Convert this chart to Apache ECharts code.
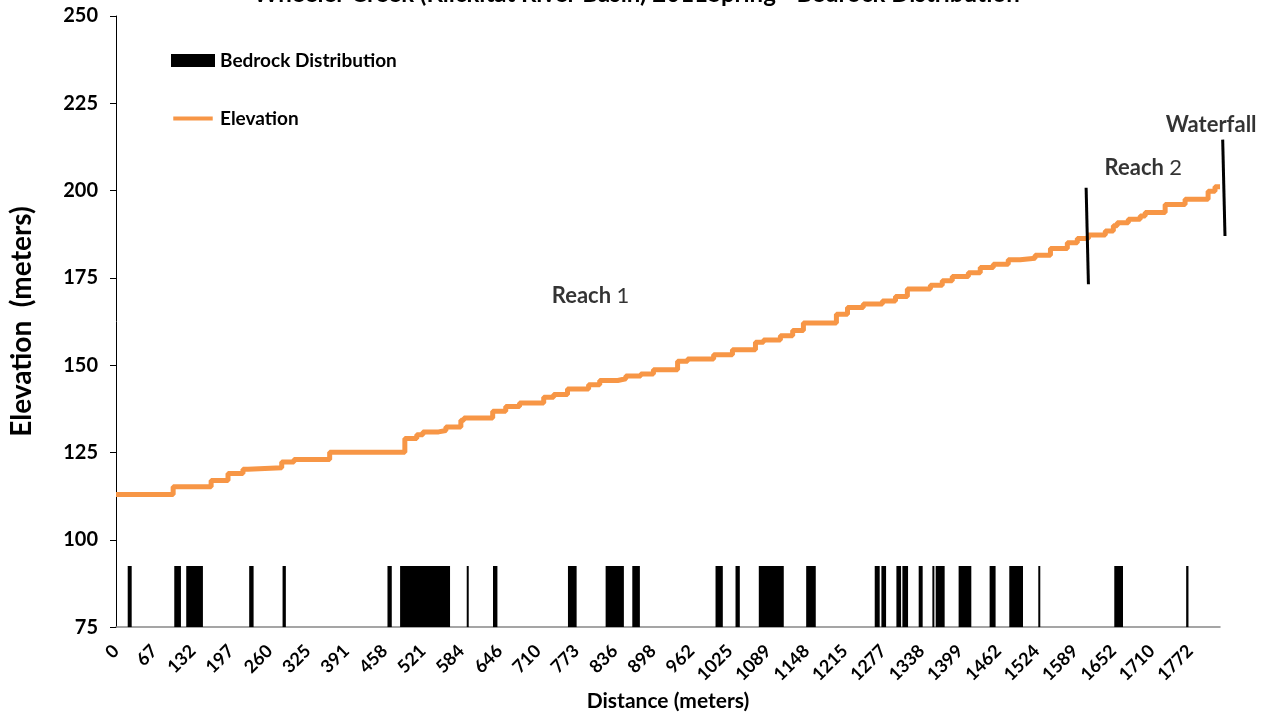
<!DOCTYPE html>
<html>
<head>
<meta charset="utf-8">
<script src="https://cdn.jsdelivr.net/npm/echarts@6/dist/echarts.min.js"></script>
<style>
html,body{margin:0;padding:0;background:#fff;}
#chart{width:1273px;height:717px;}
</style>
</head>
<body>
<div id="chart"></div>
<script>
// x positions are in "tick-label slots" (label i sits at x = i)
const tickLabels = ['0','67','132','197','260','325','391','458','521','584','646','710','773','836','898','962','1025','1089','1148','1215','1277','1338','1399','1462','1524','1589','1652','1710','1772'];

// Elevation step profile: start position of each step and its elevation (m)
const elevX = [0,1.49,2.48,2.92,3.31,3.44,4.32,4.64,5.57,7.53,7.84,8.00,8.41,8.60,8.99,9.07,9.82,10.16,10.52,11.15,11.41,11.77,12.32,12.61,13.08,13.29,13.68,14.01,14.64,14.90,15.58,16.07,16.67,16.88,17.32,17.64,17.92,18.78,19.07,19.48,19.98,20.32,20.63,21.23,21.54,21.80,22.22,22.53,22.87,23.26,23.57,23.96,24.36,24.80,25.06,25.35,25.79,26.00,26.10,26.39,26.70,26.83,27.35,27.87,28.47,28.65,28.78];
const elevY = [113.0,115.2,117.0,119.0,120.2,120.6,122.3,123.0,125.1,129.0,130.1,130.9,131.3,132.3,134.2,134.9,136.8,138.2,139.2,140.8,141.6,143.2,144.4,145.6,146.1,146.9,147.5,148.7,151.1,151.8,153.0,154.4,156.6,157.2,158.4,159.9,162.1,164.6,166.5,167.5,168.4,169.7,171.8,172.9,174.2,175.4,176.5,178.0,178.9,180.2,180.6,181.5,183.4,185.1,186.3,187.3,188.4,189.9,190.8,191.8,192.7,193.7,196.0,197.5,199.8,201.1,201.1];

// Bedrock stretches: start, end (slots), bar top (m)
const bedStart = [0.305,1.519,1.831,3.472,4.342,7.077,7.406,9.143,9.828,11.782,12.764,13.459,15.629,16.150,16.757,17.992,19.779,19.953,20.344,20.500,20.925,21.282,21.368,21.966,22.774,23.287,24.043,26.024,27.898];
const bedEnd   = [0.409,1.693,2.266,3.587,4.428,7.189,8.708,9.195,9.943,12.008,13.240,13.657,15.819,16.262,17.408,18.242,19.909,20.075,20.466,20.648,21.029,21.326,21.602,22.297,22.930,23.644,24.095,26.251,27.958];
const bedTop = 92.5;

// Reach boundary markers: x1, y1, x2, y2
const markerLines = [[25.29,200.8,25.35,173.2],[28.85,214.6,28.91,187.0]];

// Annotation labels [x, y, text key]
const notes = [[12.37,169.8,'r1'],[26.78,206.6,'r2'],[28.55,218.9,'wf']];

const FONT = 'Lato';
const chart = echarts.init(document.getElementById('chart'));

const elevData = elevX.map((x,i)=>[x, elevY[i]]);
const bedData = bedStart.map((s,i)=>[s, bedEnd[i], bedTop]);

chart.setOption({
  animation:false,
  backgroundColor:'#fff',
  textStyle:{fontFamily:FONT},
  graphic:[{
    type:'text', left:'center', top:-18,
    style:{text:'Wheeler Creek (Klickitat River Basin) 2011Spring - Bedrock Distribution', font:'bold 24px '+FONT, fill:'#000'}
  }],
  grid:{left:115, right:53, top:16, bottom:88},
  legend:{
    orient:'vertical', left:166, top:46, itemWidth:44, itemHeight:13, itemGap:39, padding:5,
    textStyle:{fontFamily:FONT, fontWeight:'bold', fontSize:19, color:'#000'},
    data:[
      {name:'Bedrock Distribution', icon:'rect', itemStyle:{color:'#000'}},
      {name:'Elevation', icon:'path://M0,0 M0,5 L44,5 L44,9.5 L0,9.5 Z M44,14.5', itemStyle:{color:'#F79646'}}
    ]
  },
  xAxis:{
    type:'value', min:0, max:28.78, interval:1,
    name:'Distance (meters)', nameLocation:'middle', nameGap:61,
    nameTextStyle:{fontFamily:FONT, fontWeight:'bold', fontSize:21, color:'#000'},
    axisLine:{show:true, onZero:false, lineStyle:{color:'#888', width:1.5}},
    axisTick:{show:false},
    splitLine:{show:false},
    axisLabel:{
      rotate:45, margin:21, showMaxLabel:false,
      fontFamily:FONT, fontWeight:'bold', fontSize:18, color:'#000',
      formatter:function(v){ return Number.isInteger(v) && tickLabels[v]!==undefined ? tickLabels[v] : ''; }
    }
  },
  yAxis:{
    type:'value', min:75, max:250, interval:25,
    name:'Elevation  (meters)', nameLocation:'middle', nameGap:80,
    nameTextStyle:{fontFamily:FONT, fontWeight:'bold', fontSize:28, color:'#000'},
    axisLine:{show:true, lineStyle:{color:'#000', width:1}},
    axisTick:{show:true, inside:false, length:6, lineStyle:{color:'#000'}},
    splitLine:{show:false},
    axisLabel:{margin:18, fontFamily:FONT, fontWeight:'bold', fontSize:20, color:'#000'}
  },
  series:[
    {
      name:'Bedrock Distribution', type:'custom',
      encode:{x:[0,1], y:2},
      data:bedData,
      renderItem:function(params, api){
        const p0 = api.coord([api.value(0), api.value(2)]);
        const p1 = api.coord([api.value(1), 75]);
        const w = Math.max(p1[0]-p0[0], 2);
        return {type:'rect', shape:{x:p0[0], y:p0[1], width:w, height:p1[1]-p0[1]}, style:{fill:'#000'}};
      },
      z:2
    },
    {
      name:'Elevation', type:'line', step:'end', data:elevData,
      symbol:'none', lineStyle:{color:'#F79646', width:5}, itemStyle:{color:'#F79646'}, z:3
    },
    {
      name:'markers', type:'custom', clip:false, z:4,
      encode:{x:[0,2], y:[1,3]},
      data:markerLines,
      renderItem:function(params, api){
        const a = api.coord([api.value(0), api.value(1)]);
        const b = api.coord([api.value(2), api.value(3)]);
        return {type:'line', shape:{x1:a[0], y1:a[1], x2:b[0], y2:b[1]}, style:{stroke:'#000', lineWidth:3}};
      }
    },
    {
      name:'notes', type:'scatter', data:notes.map(n=>({value:[n[0],n[1]], key:n[2]})),
      symbolSize:0, clip:false, z:5,
      label:{
        show:true, position:'inside', color:'#000', textBorderWidth:0,
        formatter:function(p){
          const k = p.data.key;
          if(k==='r1') return '{b|Reach }{n|1}';
          if(k==='r2') return '{b|Reach }{n|2}';
          return '{b|Waterfall}';
        },
        rich:{
          b:{fontFamily:FONT, fontWeight:'bold', fontSize:22, color:'#000', textBorderWidth:0},
          n:{fontFamily:FONT, fontWeight:'normal', fontSize:22, color:'#000', textBorderWidth:0}
        }
      }
    }
  ]
});
</script>
</body>
</html>
